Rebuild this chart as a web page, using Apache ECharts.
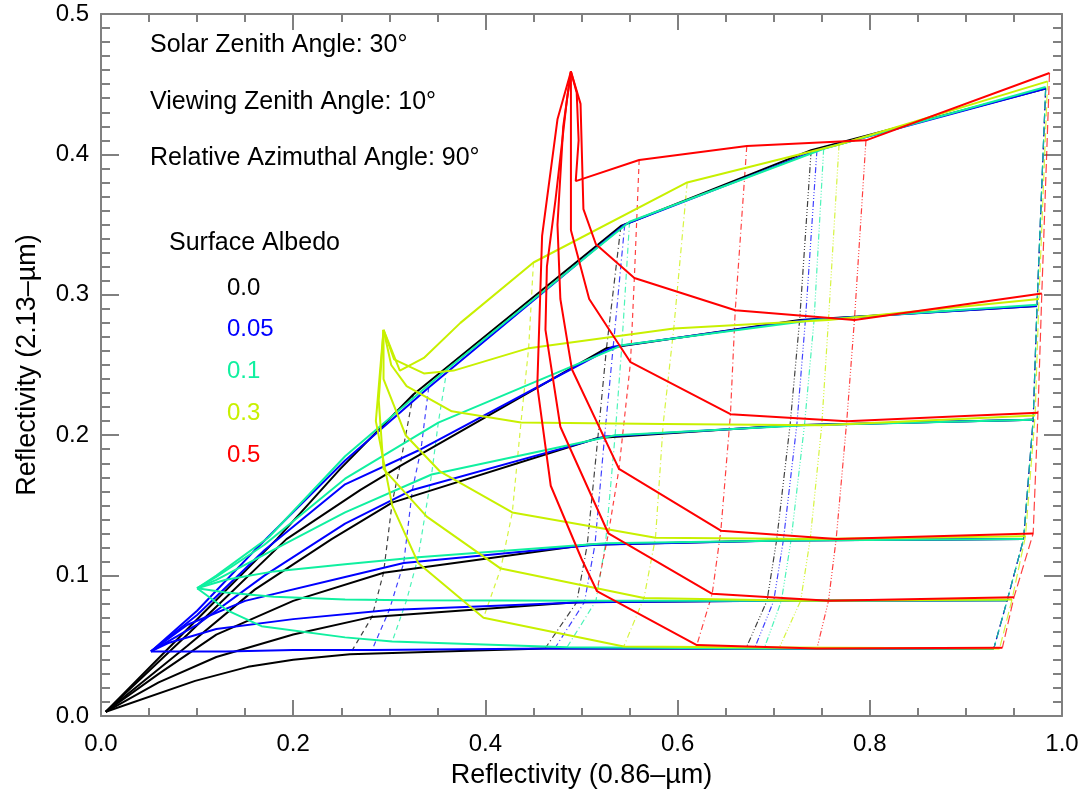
<!DOCTYPE html>
<html>
<head>
<meta charset="utf-8">
<script src="https://cdn.jsdelivr.net/npm/echarts@6/dist/echarts.min.js"></script>
<style>
  html, body { margin: 0; padding: 0; background: #fff; }
  #chart { width: 1088px; height: 794px; }
</style>
</head>
<body>
<div id="chart"></div>
<script>
  // each row = one effective radius (small -> large), points [R0.86, R2.13] from tau = 0 upward;
  // the last four points of every row are the optical thicknesses joined by the broken lines
  const albedo00 = [
    [[0.005, 0.003], [0.09, 0.062], [0.183, 0.126], [0.249, 0.176], [0.325, 0.229], [0.541, 0.349], [0.739, 0.403], [0.983, 0.447]],
    [[0.005, 0.003], [0.09, 0.058], [0.193, 0.126], [0.27, 0.161], [0.311, 0.178], [0.526, 0.262], [0.727, 0.282], [0.974, 0.292]],
    [[0.005, 0.003], [0.09, 0.05], [0.16, 0.09], [0.24, 0.126], [0.303, 0.152], [0.517, 0.198], [0.717, 0.207], [0.97, 0.211]],
    [[0.005, 0.003], [0.06, 0.03], [0.12, 0.058], [0.2, 0.082], [0.294, 0.102], [0.506, 0.122], [0.703, 0.125], [0.96, 0.126]],
    [[0.005, 0.003], [0.06, 0.024], [0.12, 0.042], [0.2, 0.058], [0.282, 0.0706], [0.495, 0.081], [0.693, 0.082], [0.943, 0.0825]],
    [[0.005, 0.003], [0.098, 0.025], [0.153, 0.035], [0.2, 0.04], [0.259, 0.044], [0.462, 0.048], [0.671, 0.048], [0.929, 0.048]],
  ];
  const albedo005 = [
    [[0.052, 0.046], [0.1, 0.075], [0.16, 0.118], [0.254, 0.182], [0.341, 0.234], [0.545, 0.35], [0.745, 0.403], [0.983, 0.447]],
    [[0.052, 0.046], [0.1, 0.072], [0.17, 0.118], [0.254, 0.165], [0.333, 0.19], [0.533, 0.263], [0.733, 0.282], [0.974, 0.292]],
    [[0.052, 0.046], [0.1, 0.065], [0.17, 0.1], [0.254, 0.137], [0.324, 0.161], [0.524, 0.199], [0.724, 0.207], [0.97, 0.211]],
    [[0.052, 0.046], [0.09, 0.065], [0.15, 0.082], [0.254, 0.099], [0.315, 0.109], [0.514, 0.122], [0.71, 0.125], [0.96, 0.126]],
    [[0.052, 0.046], [0.07, 0.052], [0.12, 0.062], [0.2, 0.069], [0.3, 0.0755], [0.503, 0.081], [0.7, 0.082], [0.943, 0.0825]],
    [[0.052, 0.046], [0.08, 0.046], [0.13, 0.046], [0.2, 0.047], [0.282, 0.047], [0.472, 0.048], [0.68, 0.048], [0.929, 0.048]],
  ];
  const albedo01 = [
    [[0.1, 0.091], [0.12, 0.1], [0.174, 0.127], [0.254, 0.185], [0.36, 0.247], [0.55, 0.352], [0.752, 0.404], [0.983, 0.448]],
    [[0.1, 0.091], [0.12, 0.099], [0.17, 0.122], [0.254, 0.169], [0.351, 0.209], [0.542, 0.264], [0.742, 0.282], [0.974, 0.293]],
    [[0.1, 0.091], [0.12, 0.097], [0.17, 0.115], [0.254, 0.145], [0.344, 0.172], [0.535, 0.2], [0.732, 0.207], [0.97, 0.211]],
    [[0.1, 0.091], [0.13, 0.097], [0.18, 0.103], [0.254, 0.108], [0.33, 0.113], [0.525, 0.123], [0.718, 0.125], [0.96, 0.126]],
    [[0.1, 0.091], [0.13, 0.088], [0.18, 0.085], [0.254, 0.083], [0.318, 0.0825], [0.515, 0.082], [0.708, 0.082], [0.943, 0.0825]],
    [[0.1, 0.091], [0.132, 0.075], [0.167, 0.064], [0.254, 0.056], [0.303, 0.053], [0.485, 0.049], [0.69, 0.048], [0.929, 0.048]],
  ];
  const albedo03 = [
    [[0.294, 0.275], [0.311, 0.246], [0.336, 0.255], [0.374, 0.28], [0.45, 0.323], [0.61, 0.38], [0.768, 0.407], [0.985, 0.452]],
    [[0.294, 0.275], [0.305, 0.254], [0.336, 0.244], [0.367, 0.246], [0.445, 0.262], [0.596, 0.276], [0.757, 0.282], [0.976, 0.297]],
    [[0.294, 0.275], [0.302, 0.25], [0.318, 0.235], [0.365, 0.217], [0.437, 0.209], [0.585, 0.208], [0.75, 0.207], [0.972, 0.214]],
    [[0.294, 0.275], [0.294, 0.24], [0.317, 0.2], [0.353, 0.174], [0.428, 0.145], [0.577, 0.127], [0.738, 0.126], [0.962, 0.128]],
    [[0.294, 0.275], [0.289, 0.225], [0.294, 0.176], [0.339, 0.142], [0.416, 0.105], [0.565, 0.084], [0.728, 0.082], [0.948, 0.083]],
    [[0.294, 0.275], [0.286, 0.21], [0.303, 0.15], [0.33, 0.109], [0.398, 0.07], [0.544, 0.0495], [0.706, 0.0488], [0.935, 0.048]],
  ];
  const albedo05 = [
    [[0.489, 0.459], [0.495, 0.444], [0.497, 0.41], [0.494, 0.381], [0.56, 0.396], [0.672, 0.406], [0.796, 0.41], [0.987, 0.458]],
    [[0.489, 0.459], [0.499, 0.436], [0.502, 0.361], [0.515, 0.336], [0.555, 0.312], [0.66, 0.289], [0.784, 0.282], [0.979, 0.301]],
    [[0.489, 0.459], [0.489, 0.4], [0.489, 0.346], [0.508, 0.297], [0.551, 0.252], [0.655, 0.215], [0.776, 0.21], [0.975, 0.216]],
    [[0.489, 0.459], [0.481, 0.42], [0.475, 0.35], [0.478, 0.297], [0.49, 0.247], [0.539, 0.176], [0.645, 0.132], [0.765, 0.126], [0.97, 0.13]],
    [[0.489, 0.459], [0.485, 0.44], [0.473, 0.368], [0.464, 0.32], [0.4625, 0.275], [0.478, 0.206], [0.528, 0.13], [0.636, 0.087], [0.757, 0.082], [0.95, 0.0845]],
    [[0.489, 0.459], [0.475, 0.425], [0.464, 0.368], [0.459, 0.342], [0.454, 0.235], [0.468, 0.164], [0.5, 0.112], [0.516, 0.089], [0.62, 0.0505], [0.745, 0.048], [0.938, 0.0487]],
  ];

  const albedoLabels = ['0.0', '0.05', '0.1', '0.3', '0.5'];
  const albedoColors = ['#000000', '#0000ff', '#10f0a0', '#c8f000', '#ff0000'];
  const families = [albedo00, albedo005, albedo01, albedo03, albedo05];
  const notes = ['Solar Zenith Angle: 30°', 'Viewing Zenith Angle: 10°', 'Relative Azimuthal Angle: 90°'];

  // dashed, dash-dot, dash-dot-dot-dot, long dash
  const dashTypes = [[5, 4], [6, 3, 1, 3], [6, 2, 1, 2, 1, 2, 1, 2], [9, 4]];

  const chart = echarts.init(document.getElementById('chart'));

  const series = [];
  families.forEach((rows, k) => {
    for (let d = 0; d < 4; d++) {
      series.push({
        type: 'line',
        data: rows.map((row) => row[row.length - 4 + d]),
        showSymbol: false,
        silent: true,
        z: 2,
        lineStyle: { color: albedoColors[k], width: 1.2, type: dashTypes[d], opacity: 0.75 },
      });
    }
  });
  families.forEach((rows, k) => {
    rows.forEach((row) => {
      series.push({
        type: 'line',
        data: row,
        showSymbol: false,
        silent: true,
        z: 3,
        lineStyle: { color: albedoColors[k], width: 2 },
      });
    });
  });

  const axisGray = '#808080';
  const fontFamily = 'Liberation Sans, Arial, sans-serif';

  const xBase = {
    type: 'value',
    min: 0,
    max: 1,
    interval: 0.2,
    axisLine: { show: true, onZero: false, lineStyle: { color: axisGray, width: 2 } },
    axisTick: { show: true, inside: true, length: 16, lineStyle: { color: axisGray, width: 2 } },
    minorTick: { show: true, splitNumber: 4, length: 8, lineStyle: { color: axisGray, width: 2 } },
    splitLine: { show: false },
  };
  const yBase = {
    type: 'value',
    min: 0,
    max: 0.5,
    interval: 0.1,
    axisLine: { show: true, onZero: false, lineStyle: { color: axisGray, width: 2 } },
    axisTick: { show: true, inside: true, length: 18, lineStyle: { color: axisGray, width: 2 } },
    minorTick: { show: true, splitNumber: 10, length: 9, lineStyle: { color: axisGray, width: 2 } },
    splitLine: { show: false },
  };

  const graphic = [];
  notes.forEach((t, i) => {
    graphic.push({
      type: 'text',
      left: 150,
      top: [33, 90, 146][i],
      style: { text: t, font: '25px ' + fontFamily, fill: '#000' },
    });
  });
  graphic.push({
    type: 'text',
    left: 169,
    top: 231,
    style: { text: 'Surface Albedo', font: '25px ' + fontFamily, fill: '#000' },
  });
  albedoLabels.forEach((t, i) => {
    graphic.push({
      type: 'text',
      left: 227,
      top: [276, 317, 359, 401, 443][i],
      style: { text: t, font: '24px ' + fontFamily, fill: albedoColors[i] },
    });
  });

  const option = {
    animation: false,
    backgroundColor: '#ffffff',
    grid: { left: 101, right: 26, top: 14, bottom: 77, containLabel: false },
    xAxis: [
      Object.assign({}, xBase, {
        position: 'bottom',
        name: 'Reflectivity (0.86–µm)',
        nameLocation: 'middle',
        nameGap: 46,
        nameTextStyle: { fontSize: 27, color: '#000', fontFamily },
        axisLabel: { margin: 16, fontSize: 24, color: '#000', fontFamily, formatter: (v) => v.toFixed(1) },
      }),
      Object.assign({}, xBase, { position: 'top', axisLabel: { show: false } }),
    ],
    yAxis: [
      Object.assign({}, yBase, {
        position: 'left',
        name: 'Reflectivity (2.13–µm)',
        nameLocation: 'middle',
        nameGap: 60,
        nameRotate: 90,
        nameTextStyle: { fontSize: 27, color: '#000', fontFamily },
        axisLabel: { margin: 12, fontSize: 24, color: '#000', fontFamily, formatter: (v) => v.toFixed(1) },
      }),
      Object.assign({}, yBase, { position: 'right', axisLabel: { show: false } }),
    ],
    graphic,
    series,
  };

  chart.setOption(option);
</script>
</body>
</html>
